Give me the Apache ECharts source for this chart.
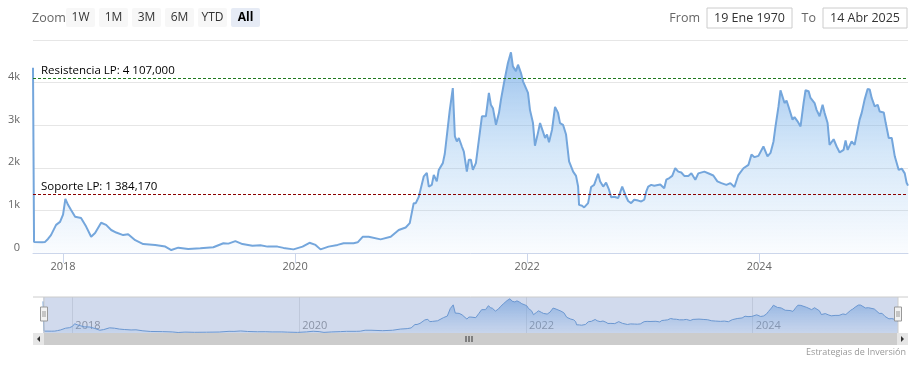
<!DOCTYPE html>
<html><head><meta charset="utf-8">
<script src="https://cdn.jsdelivr.net/npm/echarts@6/dist/echarts.min.js"></script>
<style>html,body{margin:0;padding:0;background:#fff}#c{width:918px;height:366px}</style>
</head><body><div id="c"></div>
<script>
const years = [2017.741,2017.750,2017.819,2017.845,2017.870,2017.896,2017.940,2017.974,2018.000,2018.020,2018.043,2018.069,2018.104,2018.121,2018.155,2018.199,2018.242,2018.276,2018.328,2018.371,2018.415,2018.458,2018.518,2018.561,2018.622,2018.691,2018.794,2018.881,2018.933,2018.993,2019.079,2019.183,2019.295,2019.382,2019.425,2019.485,2019.546,2019.632,2019.701,2019.762,2019.848,2019.900,2019.986,2020.064,2020.124,2020.176,2020.219,2020.288,2020.366,2020.418,2020.504,2020.539,2020.582,2020.634,2020.737,2020.824,2020.893,2020.953,2020.988,2021.022,2021.040,2021.066,2021.109,2021.135,2021.152,2021.178,2021.195,2021.221,2021.238,2021.273,2021.290,2021.307,2021.333,2021.359,2021.377,2021.394,2021.411,2021.437,2021.454,2021.480,2021.497,2021.515,2021.532,2021.558,2021.584,2021.610,2021.627,2021.644,2021.670,2021.687,2021.705,2021.731,2021.757,2021.774,2021.800,2021.834,2021.860,2021.877,2021.903,2021.921,2021.946,2021.964,2021.981,2022.007,2022.024,2022.050,2022.067,2022.093,2022.111,2022.136,2022.154,2022.171,2022.188,2022.214,2022.240,2022.266,2022.283,2022.309,2022.335,2022.361,2022.396,2022.421,2022.439,2022.447,2022.473,2022.491,2022.525,2022.551,2022.577,2022.611,2022.629,2022.655,2022.680,2022.706,2022.724,2022.750,2022.784,2022.801,2022.819,2022.836,2022.853,2022.870,2022.896,2022.922,2022.957,2022.983,2023.009,2023.026,2023.043,2023.069,2023.095,2023.112,2023.147,2023.181,2023.199,2023.225,2023.250,2023.276,2023.302,2023.328,2023.354,2023.389,2023.415,2023.449,2023.475,2023.527,2023.570,2023.604,2023.639,2023.674,2023.717,2023.751,2023.786,2023.820,2023.864,2023.907,2023.933,2023.959,2023.993,2024.036,2024.045,2024.071,2024.097,2024.123,2024.140,2024.166,2024.183,2024.200,2024.218,2024.235,2024.252,2024.269,2024.287,2024.304,2024.330,2024.356,2024.382,2024.399,2024.425,2024.442,2024.477,2024.494,2024.520,2024.546,2024.563,2024.589,2024.606,2024.641,2024.667,2024.693,2024.727,2024.744,2024.762,2024.779,2024.796,2024.822,2024.839,2024.865,2024.883,2024.908,2024.934,2024.952,2024.969,2024.995,2025.021,2025.038,2025.073,2025.090,2025.116,2025.142,2025.168,2025.202,2025.228,2025.254,2025.270,2025.282];
const values = [4350,260,250,260,330,420,660,730,900,1270,1130,1010,850,890,820,620,380,470,710,660,540,480,420,440,300,210,190,150,70,125,95,110,135,230,220,280,210,170,180,150,150,120,85,150,240,190,85,150,190,230,230,250,380,380,320,380,540,600,700,1170,1170,1320,1800,1880,1560,1600,1830,1680,1950,2110,2330,2330,3360,3870,2740,2620,2700,2500,2380,1910,2190,2190,1950,2110,2660,3210,3200,3210,3760,3480,3400,3010,3290,3600,3990,4460,4710,4380,4270,4420,4230,4030,4070,3760,3360,3050,2520,2820,3050,2850,2700,2780,2600,2890,3430,3290,3050,3010,2780,2150,1910,1810,1560,1130,1110,1070,1170,1550,1600,1860,1680,1560,1650,1480,1310,1320,1290,1320,1560,1560,1320,1220,1170,1250,1230,1210,1250,1440,1560,1600,1580,1610,1610,1520,1720,1760,1810,1990,1910,1890,1810,1810,1870,1720,1870,1910,1860,1820,1680,1640,1600,1640,1550,1830,1990,2070,2310,2250,2280,2500,2500,2270,2350,2620,2970,3440,3820,3840,3520,3580,3440,3400,3130,3190,3090,2970,3520,3820,3800,3640,3520,3360,3210,3480,3290,3050,2540,2670,2500,2360,2420,2640,2420,2420,2620,2540,2560,3130,3290,3600,3850,3840,3640,3440,3480,3320,3300,3050,2700,2700,2270,1950,1980,1870,1650,1580];
const yearTicks = [2018, 2020, 2022, 2024];
const yTicks = [0, 1000, 2000, 3000, 4000, 5000];
const resistance = 4107;
const support = 1384.17;
const resistanceLabel = 'Resistencia LP: 4 107,000';
const supportLabel = 'Soporte LP: 1 384,170';
const rangeButtons = ['1W', '1M', '3M', '6M', 'YTD', 'All'];
const fromDate = '19 Ene 1970';
const toDate = '14 Abr 2025';
const credit = 'Estrategias de Inversión';

const FONT = '"Open Sans", "Noto Sans", sans-serif';
const seriesData = years.map((y, i) => [y, values[i]]);
const xMin = years[0], xMax = years[years.length - 1];

const chart = echarts.init(document.getElementById('c'), null, {renderer: 'canvas'});

const graphics = [];
graphics.push({type: 'text', x: 32, y: 18, style: {text: 'Zoom', fill: '#666', font: '12.5px ' + FONT, align: 'left', verticalAlign: 'middle'}});
rangeButtons.forEach((b, i) => {
  const x = 66 + i * 33;
  const sel = b === 'All';
  graphics.push({type: 'rect', shape: {x: x, y: 8, width: 29, height: 19, r: 2}, style: {fill: sel ? '#e6ebf5' : '#f7f7f7'}});
  graphics.push({type: 'text', x: x + 14.5, y: 18, style: {text: b, fill: sel ? '#000' : '#333', font: (sel ? 'bold ' : '') + '12px ' + FONT, align: 'center', verticalAlign: 'middle'}});
});
graphics.push({type: 'text', x: 700, y: 18, style: {text: 'From', fill: '#666', font: '12.5px ' + FONT, align: 'right', verticalAlign: 'middle'}});
graphics.push({type: 'rect', shape: {x: 707, y: 8, width: 85, height: 20}, style: {fill: '#fff', stroke: '#ccc', lineWidth: 1}});
graphics.push({type: 'text', x: 749.5, y: 18, style: {text: fromDate, fill: '#333', font: '12.5px ' + FONT, align: 'center', verticalAlign: 'middle'}});
graphics.push({type: 'text', x: 816, y: 18, style: {text: 'To', fill: '#666', font: '12.5px ' + FONT, align: 'right', verticalAlign: 'middle'}});
graphics.push({type: 'rect', shape: {x: 823, y: 8, width: 84, height: 20}, style: {fill: '#fff', stroke: '#ccc', lineWidth: 1}});
graphics.push({type: 'text', x: 865, y: 18, style: {text: toDate, fill: '#333', font: '12.5px ' + FONT, align: 'center', verticalAlign: 'middle'}});

// navigator decorations
graphics.push({type: 'rect', z: 10, shape: {x: 43, y: 297, width: 855, height: 36}, style: {fill: 'rgba(102,133,194,0.3)'}});
graphics.push({type: 'line', z: 11, shape: {x1: 33, y1: 297, x2: 908, y2: 297}, style: {stroke: '#cccccc', lineWidth: 1}});
[44, 898].forEach(hx => {
  graphics.push({type: 'line', z: 11, shape: {x1: hx, y1: 297, x2: hx, y2: 333}, style: {stroke: '#cccccc', lineWidth: 1}});
  graphics.push({type: 'rect', z: 12, shape: {x: hx - 3.5, y: 307, width: 7, height: 14}, style: {fill: '#f2f2f2', stroke: '#999', lineWidth: 1}});
  graphics.push({type: 'line', z: 13, shape: {x1: hx - 1, y1: 311, x2: hx - 1, y2: 317}, style: {stroke: '#999', lineWidth: 1}});
  graphics.push({type: 'line', z: 13, shape: {x1: hx + 1, y1: 311, x2: hx + 1, y2: 317}, style: {stroke: '#999', lineWidth: 1}});
});
// scrollbar
graphics.push({type: 'rect', shape: {x: 33, y: 333, width: 875, height: 12}, style: {fill: '#f2f2f2'}});
graphics.push({type: 'rect', shape: {x: 44, y: 333, width: 853, height: 12}, style: {fill: '#cccccc'}});
graphics.push({type: 'rect', shape: {x: 33, y: 333, width: 11, height: 12}, style: {fill: '#e6e6e6'}});
graphics.push({type: 'rect', shape: {x: 897, y: 333, width: 11, height: 12}, style: {fill: '#e6e6e6'}});
graphics.push({type: 'polygon', shape: {points: [[40, 336], [40, 342], [37, 339]]}, style: {fill: '#333'}});
graphics.push({type: 'polygon', shape: {points: [[901, 336], [901, 342], [904, 339]]}, style: {fill: '#333'}});
[466, 469, 472].forEach(gx => graphics.push({type: 'line', shape: {x1: gx, y1: 336, x2: gx, y2: 342}, style: {stroke: '#333', lineWidth: 1}}));
graphics.push({type: 'text', x: 906, y: 352, style: {text: credit, fill: '#999', font: '9px ' + FONT, align: 'right', verticalAlign: 'middle'}});

const areaGrad = new echarts.graphic.LinearGradient(0, 0, 0, 1, [
  {offset: 0, color: 'rgba(96,158,226,0.92)'},
  {offset: 0.5, color: 'rgba(124,181,236,0.45)'},
  {offset: 1, color: 'rgba(124,181,236,0.05)'}
]);
const navGrad = new echarts.graphic.LinearGradient(0, 0, 0, 1, [
  {offset: 0, color: 'rgba(96,158,226,0.85)'},
  {offset: 1, color: 'rgba(124,181,236,0.15)'}
]);

chart.setOption({
  animation: false,
  textStyle: {fontFamily: FONT},
  grid: [
    {left: 33, right: 10, top: 40, height: 213},
    {left: 43, right: 20, top: 297, height: 36}
  ],
  xAxis: [
    {
      type: 'value', gridIndex: 0, min: xMin, max: xMax,
      axisLine: {show: true, lineStyle: {color: '#ccd6eb'}},
      axisTick: {show: true, length: 10, lineStyle: {color: '#ccd6eb'}, customValues: yearTicks},
      axisLabel: {color: '#666', fontSize: 11, margin: 8, customValues: yearTicks, formatter: v => String(Math.round(v))},
      splitLine: {show: false}
    },
    {
      type: 'value', gridIndex: 1, min: xMin, max: xMax,
      axisLine: {show: false},
      axisTick: {show: true, inside: true, length: 36, lineStyle: {color: '#e6e6e6'}, customValues: yearTicks},
      axisLabel: {inside: true, color: '#999', fontSize: 11, margin: 2, align: 'left', padding: [0, 0, 0, 3], customValues: yearTicks, formatter: v => String(Math.round(v))},
      splitLine: {show: false}
    }
  ],
  yAxis: [
    {
      type: 'value', gridIndex: 0, min: 0, max: 5000, interval: 1000,
      axisLine: {show: false}, axisTick: {show: false},
      axisLabel: {color: '#666', fontSize: 11, margin: 13, verticalAlign: 'bottom', showMaxLabel: false,
        formatter: v => v === 0 ? '0' : (v / 1000) + 'k'},
      splitLine: {lineStyle: {color: '#e6e6e6'}}
    },
    {
      type: 'value', gridIndex: 1, min: 0, max: 4950,
      axisLine: {show: false}, axisTick: {show: false}, axisLabel: {show: false}, splitLine: {show: false}
    }
  ],
  series: [
    {
      type: 'line', xAxisIndex: 0, yAxisIndex: 0, data: seriesData,
      showSymbol: false, symbol: 'none',
      lineStyle: {color: '#74a6dc', width: 2},
      areaStyle: {color: areaGrad, origin: 'start'},
      markLine: {
        silent: true, symbol: 'none', animation: false,
        data: [
          {yAxis: resistance, lineStyle: {color: '#1f7a1f', type: [3, 2], width: 1},
           label: {show: true, position: 'insideStartTop', formatter: resistanceLabel, color: '#000', fontSize: 11.5, fontFamily: FONT, distance: [8, 1]}},
          {yAxis: support, lineStyle: {color: '#8b0000', type: [3, 2], width: 1},
           label: {show: true, position: 'insideStartTop', formatter: supportLabel, color: '#000', fontSize: 11.5, fontFamily: FONT, distance: [8, 1]}}
        ]
      }
    },
    {
      type: 'line', xAxisIndex: 1, yAxisIndex: 1, data: seriesData,
      showSymbol: false, symbol: 'none',
      lineStyle: {color: '#6d9fd6', width: 1},
      areaStyle: {color: navGrad, origin: 'start'}
    }
  ],
  graphic: graphics
});
</script>
</body></html>
